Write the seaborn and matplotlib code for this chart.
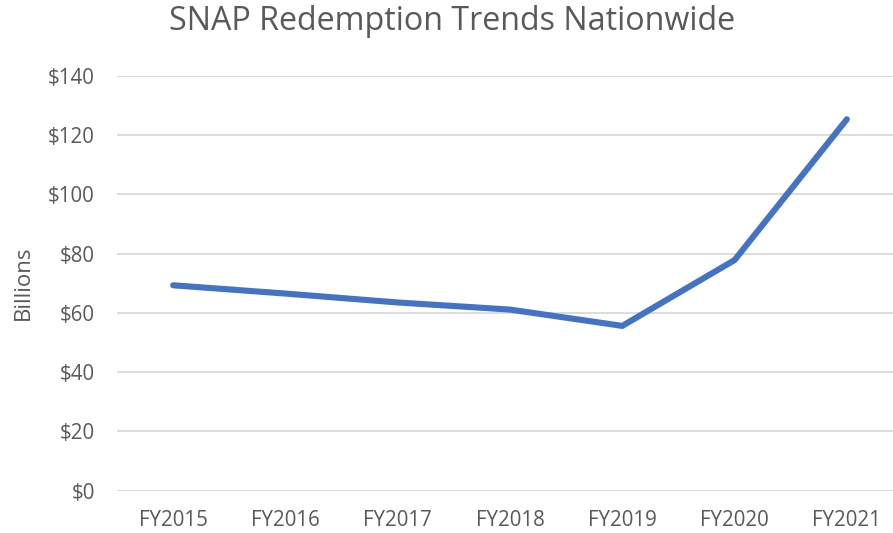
import numpy as np
import pandas as pd
import seaborn as sns
import matplotlib
matplotlib.use("Agg")
import matplotlib.pyplot as plt
from matplotlib.ticker import FuncFormatter

# values (billions of dollars)
years = ["FY2015", "FY2016", "FY2017", "FY2018", "FY2019", "FY2020", "FY2021"]
redemptions = [69.3, 66.5, 63.5, 61.1, 55.6, 77.8, 125.3]

df = pd.DataFrame({"year": years, "billions": redemptions})

sns.set_theme(style="whitegrid")
plt.rcParams["font.family"] = ["Open Sans", "DejaVu Sans"]

txt = "#595959"

fig = plt.figure(figsize=(8.93, 5.33), dpi=100)
# plot area runs a bit past the right edge, as in the original
ax = fig.add_axes([117 / 893, 42.3 / 533, 786 / 893, 415 / 533])

sns.lineplot(data=df, x="year", y="billions", ax=ax, color="#4472C4",
             linewidth=4.4, sort=False, solid_capstyle="round",
             solid_joinstyle="round")

ax.set_xlim(-0.5, len(years) - 0.5)
ax.set_ylim(0, 140)
ax.set_yticks(np.arange(0, 141, 20))
ax.yaxis.set_major_formatter(FuncFormatter(lambda v, p: "$%d" % v))

ax.grid(axis="y", color="#D9D9D9", linewidth=1.3)
ax.grid(axis="x", visible=False)
for s in ax.spines.values():
    s.set_visible(False)

ax.tick_params(axis="both", length=0, labelsize=14.8, colors=txt)
ax.tick_params(axis="y", pad=16)
ax.tick_params(axis="x", pad=14)

ax.set_xlabel("")
ax.set_ylabel("Billions", fontsize=16, color=txt, labelpad=10)

fig.text(452 / 893, 1 - 21 / 533, "SNAP Redemption Trends Nationwide",
         ha="center", va="center", fontsize=23.2, color=txt)

fig.savefig("out.png", dpi=100, facecolor="white")
